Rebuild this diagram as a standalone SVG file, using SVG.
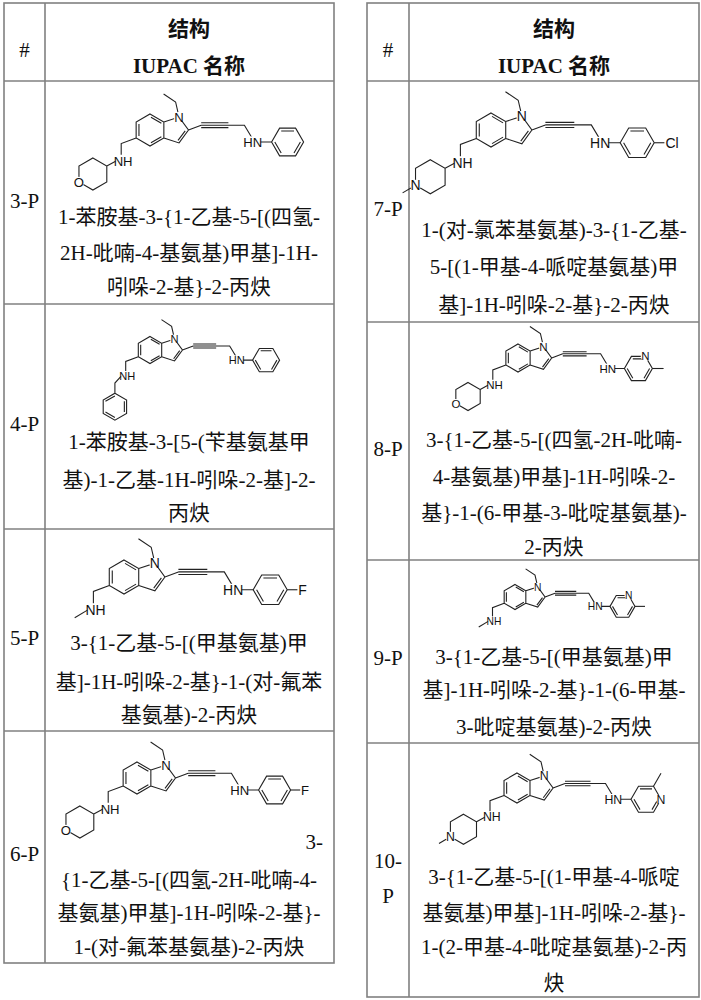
<svg xmlns="http://www.w3.org/2000/svg" xmlns:xlink="http://www.w3.org/1999/xlink" width="701" height="1000" viewBox="0 0 701 1000">
<style>
.grid{fill:none;stroke:#808080;stroke-width:1.6}
.b{fill:none;stroke:#222;stroke-width:1.1;vector-effect:non-scaling-stroke}
.lbl{font-family:"Liberation Sans",Arial,sans-serif;font-size:0.82px;fill:#111;text-anchor:middle}
.wh{fill:#fff;stroke:none}
.t{font-family:"Liberation Serif","Noto Sans CJK SC",serif;font-size:21px;fill:#111;text-anchor:middle}
.h{font-family:"Liberation Serif","Noto Sans CJK SC",serif;font-size:21px;font-weight:bold;fill:#111;text-anchor:middle}
</style>
<defs>
<g id="core">
<path class="b" d="M0,-1 L0.866,-0.5 L0.866,0.5 L0,1 L-0.866,0.5 L-0.866,-0.5 Z M-0.69,-0.38 L-0.69,0.38 M0.06,-0.8 L0.71,-0.42 M0.06,0.8 L0.71,0.42 M0.866,-0.5 L1.817,-0.809 L2.405,0 L1.817,0.809 L0.866,0.5 M2.2,0.05 L1.75,0.65 M1.817,-0.809 L1.6,-1.75 L0.85,-2.25 M2.405,0 L3.2,-0.3 M3.2,-0.3 L4.9,-0.3 M3.2,-0.45 L4.9,-0.45 M3.2,-0.15 L4.9,-0.15 M4.9,-0.3 L5.9,-0.3 L6.35,0.45 M6.9,0.75 L7.6,0.75 M-0.866,0.5 L-1.8,0.85 L-1.8,1.55"/>
<circle class="wh" cx="1.817" cy="-0.809" r="0.33"/>
<text class="lbl" x="1.817" y="-0.52">N</text>
<rect class="wh" x="5.95" y="0.4" width="0.95" height="0.72"/>
<text class="lbl" x="6.42" y="1.04">HN</text>
<rect class="wh" x="-2.15" y="1.58" width="0.95" height="0.72"/>
<text class="lbl" x="-1.68" y="2.22">NH</text>
</g>
<path id="ring" class="b" d="M7.6,0.75 L8.1,-0.116 L9.1,-0.116 L9.6,0.75 L9.1,1.616 L8.1,1.616 Z M8.2,0.06 L9,0.06 M9.4,0.75 L9,1.44 M8.2,1.44 L7.8,0.75"/>
<g id="ph"><use xlink:href="#ring"/></g>
<g id="phF"><use xlink:href="#ring"/><path class="b" d="M9.6,0.75 L10.2,0.75"/><text class="lbl" x="10.5" y="1.04">F</text></g>
<g id="phCl"><use xlink:href="#ring"/><path class="b" d="M9.6,0.75 L10.2,0.75"/><text class="lbl" x="10.65" y="1.04">Cl</text></g>
<g id="pyr6"><use xlink:href="#ring"/><path class="b" d="M9.6,0.75 L10.4,0.75"/><circle class="wh" cx="9.1" cy="-0.116" r="0.33"/><text class="lbl" x="9.1" y="0.17">N</text></g>
<g id="pyr2"><use xlink:href="#ring"/><path class="b" d="M9.1,-0.116 L9.6,-0.98"/><circle class="wh" cx="9.6" cy="0.75" r="0.33"/><text class="lbl" x="9.6" y="1.04">N</text></g>
<path id="hexL" class="b" d="M-2.15,1.95 L-2.7,2.25 M-3.57,1.75 L-2.7,2.25 L-2.7,3.25 L-3.57,3.75 L-4.44,3.25 L-4.44,2.25 Z"/>
<g id="thp"><use xlink:href="#hexL"/><circle class="wh" cx="-4.44" cy="3.25" r="0.33"/><text class="lbl" x="-4.44" y="3.54">O</text></g>
<g id="pip"><use xlink:href="#hexL"/><path class="b" d="M-4.44,3.25 L-5.2,3.7"/><circle class="wh" cx="-4.44" cy="3.25" r="0.33"/><text class="lbl" x="-4.44" y="3.54">N</text></g>
<g id="bzl"><path class="b" d="M-2.15,1.95 L-2.6,2.45 L-2.6,3.2 M-2.6,3.2 L-1.734,3.7 L-1.734,4.7 L-2.6,5.2 L-3.466,4.7 L-3.466,3.7 Z M-1.9,3.8 L-1.9,4.6 M-2.6,5.0 L-3.3,4.6 M-3.3,3.8 L-2.6,3.4"/></g>
<g id="me"><path class="b" d="M-2.15,1.95 L-2.9,2.4"/></g>
</defs>

<g id="grid">
<rect class="grid" x="4" y="3" width="330" height="960"/>
<line class="grid" x1="45" y1="3" x2="45" y2="963"/>
<line class="grid" x1="4" y1="81" x2="334" y2="81"/>
<line class="grid" x1="4" y1="304" x2="334" y2="304"/>
<line class="grid" x1="4" y1="529" x2="334" y2="529"/>
<line class="grid" x1="4" y1="731" x2="334" y2="731"/>
<rect class="grid" x="367" y="3" width="332" height="994"/>
<line class="grid" x1="409" y1="3" x2="409" y2="997"/>
<line class="grid" x1="367" y1="81" x2="699" y2="81"/>
<line class="grid" x1="367" y1="322" x2="699" y2="322"/>
<line class="grid" x1="367" y1="560" x2="699" y2="560"/>
<line class="grid" x1="367" y1="743" x2="699" y2="743"/>
</g>

<g id="header">
<text class="t" x="24.5" y="57">#</text>
<text class="h" x="189" y="36">结构</text>
<text class="h" x="189" y="73">IUPAC 名称</text>
<text class="t" x="388" y="57">#</text>
<text class="h" x="554" y="36">结构</text>
<text class="h" x="554" y="73">IUPAC 名称</text>
</g>

<g id="row3P">
<text class="t" x="24.5" y="208">3-P</text>
<g transform="translate(150,130) scale(16)"><use xlink:href="#core"/><use xlink:href="#ph"/><use xlink:href="#thp"/></g>
<text class="t" x="189" y="224">1-苯胺基-3-{1-乙基-5-[(四氢-</text>
<text class="t" x="189" y="260">2H-吡喃-4-基氨基)甲基]-1H-</text>
<text class="t" x="189" y="294">吲哚-2-基}-2-丙炔</text>
</g>

<g id="row4P">
<text class="t" x="24.5" y="431">4-P</text>
<g transform="translate(150,350) scale(13.5)"><use xlink:href="#core"/><use xlink:href="#ph"/><use xlink:href="#bzl"/></g>
<text class="t" x="189" y="449">1-苯胺基-3-[5-(苄基氨基甲</text>
<text class="t" x="189" y="487">基)-1-乙基-1H-吲哚-2-基]-2-</text>
<text class="t" x="189" y="520">丙炔</text>
</g>

<g id="row5P">
<text class="t" x="24.5" y="645">5-P</text>
<g transform="translate(124,577) scale(17)"><use xlink:href="#core"/><use xlink:href="#phF"/><use xlink:href="#me"/></g>
<text class="t" x="189" y="650">3-{1-乙基-5-[(甲基氨基)甲</text>
<text class="t" x="189" y="689">基]-1H-吲哚-2-基}-1-(对-氟苯</text>
<text class="t" x="189" y="722">基氨基)-2-丙炔</text>
</g>

<g id="row6P">
<text class="t" x="24.5" y="861">6-P</text>
<g transform="translate(137,778) scale(16)"><use xlink:href="#core"/><use xlink:href="#phF"/><use xlink:href="#thp"/></g>
<text class="t" x="323" y="849" style="text-anchor:end">3-</text>
<text class="t" x="189" y="887">{1-乙基-5-[(四氢-2H-吡喃-4-</text>
<text class="t" x="189" y="920">基氨基)甲基]-1H-吲哚-2-基}-</text>
<text class="t" x="189" y="954">1-(对-氟苯基氨基)-2-丙炔</text>
</g>

<g id="row7P">
<text class="t" x="388" y="216">7-P</text>
<g transform="translate(491,130) scale(17)"><use xlink:href="#core"/><use xlink:href="#phCl"/><use xlink:href="#pip"/></g>
<text class="t" x="554" y="237">1-(对-氯苯基氨基)-3-{1-乙基-</text>
<text class="t" x="554" y="274">5-[(1-甲基-4-哌啶基氨基)甲</text>
<text class="t" x="554" y="312">基]-1H-吲哚-2-基}-2-丙炔</text>
</g>

<g id="row8P">
<text class="t" x="388" y="456">8-P</text>
<g transform="translate(518,358) scale(14)"><use xlink:href="#core"/><use xlink:href="#pyr6"/><use xlink:href="#thp"/></g>
<text class="t" x="554" y="447">3-{1-乙基-5-[(四氢-2H-吡喃-</text>
<text class="t" x="554" y="484">4-基氨基)甲基]-1H-吲哚-2-</text>
<text class="t" x="554" y="520">基}-1-(6-甲基-3-吡啶基氨基)-</text>
<text class="t" x="554" y="554">2-丙炔</text>
</g>

<g id="row9P">
<text class="t" x="388" y="665">9-P</text>
<g transform="translate(515,597) scale(12.5)"><use xlink:href="#core"/><use xlink:href="#pyr6"/><use xlink:href="#me"/></g>
<text class="t" x="554" y="664">3-{1-乙基-5-[(甲基氨基)甲</text>
<text class="t" x="554" y="697">基]-1H-吲哚-2-基}-1-(6-甲基-</text>
<text class="t" x="554" y="734">3-吡啶基氨基)-2-丙炔</text>
</g>

<g id="row10P">
<text class="t" x="388" y="868">10-</text>
<text class="t" x="388" y="903">P</text>
<g transform="translate(517,788) scale(15)"><use xlink:href="#core"/><use xlink:href="#pyr2"/><use xlink:href="#pip"/></g>
<text class="t" x="554" y="884">3-{1-乙基-5-[(1-甲基-4-哌啶</text>
<text class="t" x="554" y="920">基氨基)甲基]-1H-吲哚-2-基}-</text>
<text class="t" x="554" y="954">1-(2-甲基-4-吡啶基氨基)-2-丙</text>
<text class="t" x="554" y="990">炔</text>
</g>
</svg>
